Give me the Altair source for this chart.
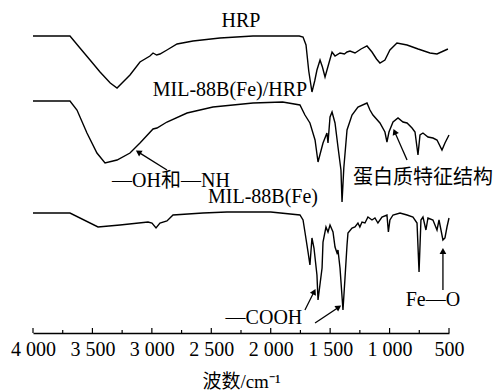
import math
import altair as alt
import pandas as pd

# FTIR spectra (wavenumber in cm^-1, stacked transmittance in arbitrary units)
hrp_wn = [4000, 3850, 3689, 3605, 3520, 3436, 3350, 3293, 3184, 3100, 3016, 2990, 2960, 2932,
          2873, 2788, 2654, 2427, 2149, 1900, 1760, 1728, 1703, 1680, 1653, 1630, 1611, 1585,
          1565, 1543, 1510, 1484, 1459, 1417, 1380, 1358, 1333, 1291, 1240, 1190, 1148, 1110,
          1081, 1039, 997, 938, 853, 760, 660, 601, 509]
hrp_t = [297, 297, 297, 285, 273, 261, 250, 245, 258, 271, 277, 280, 278, 279,
         283, 289, 292, 295, 297, 297, 297, 296, 288, 262, 241, 252, 263, 273,
         266, 256, 270, 281, 277, 280, 279, 281, 282, 280, 284, 287, 281, 274,
         270, 273, 283, 290, 288, 284, 280, 279, 284]

mix_wn = [4000, 3689, 3630, 3546, 3462, 3394, 3293, 3184, 3100, 2990, 2957, 2873, 2704, 2486,
          2149, 1900, 1754, 1712, 1670, 1627, 1602, 1560, 1527, 1518, 1501, 1484, 1459, 1434,
          1409, 1400, 1385, 1358, 1316, 1266, 1190, 1165, 1140, 1081, 1039, 1022, 1005, 971,
          929, 887, 853, 811, 786, 761, 744, 719, 677, 635, 601, 559, 534, 500]
mix_t = [232, 232, 223, 200, 180, 170, 173, 180, 190, 204, 205, 211, 220, 226,
         230, 231, 228, 218, 210, 193, 171, 190, 200, 190, 216, 221, 210, 186,
         163, 131, 165, 203, 218, 226, 230, 223, 218, 210, 201, 191, 201, 211,
         215, 211, 210, 205, 201, 178, 198, 200, 196, 195, 193, 183, 190, 198]

mof_wn = [4000, 3689, 3453, 3268, 3032, 2999, 2965, 2932, 2873, 2822, 2570, 2368, 2000, 1754,
          1728, 1712, 1686, 1670, 1653, 1636, 1611, 1602, 1568, 1560, 1535, 1518, 1501, 1476,
          1459, 1442, 1434, 1417, 1392, 1375, 1358, 1350, 1316, 1291, 1266, 1250, 1232, 1207,
          1182, 1148, 1123, 1098, 1064, 1022, 1010, 997, 971, 912, 853, 803, 769, 752, 736,
          719, 694, 677, 635, 601, 584, 551, 534, 517, 500]
mof_t = [120, 120, 106, 108, 111, 110, 105, 110, 112, 118, 120, 121, 121, 118,
         113, 101, 81, 68, 95, 85, 58, 33, 65, 91, 106, 101, 108, 101,
         86, 80, 83, 65, 23, 55, 88, 100, 105, 106, 110, 106, 111, 110,
         116, 113, 115, 110, 116, 118, 101, 113, 118, 120, 118, 116, 110, 61, 113,
         116, 103, 115, 113, 103, 113, 93, 95, 106, 115]

series_names = ["HRP", "MIL-88B(Fe)/HRP", "MIL-88B(Fe)"]

# Curve labels and annotations
label_text = ["HRP", "MIL-88B(Fe)/HRP", "—OH和—NH", "MIL-88B(Fe)", "蛋白质特征结构", "—COOH", "Fe—O"]
label_wn = [2250, 2343, 2839, 2065, 719, 2057, 635]
label_t = [312, 243, 152, 136, 155, 15, 33]

# Arrows: tail (wn0, t0) -> head (wn1, t1)
arrow_wn0 = [2873, 853, 1712, 1627, 551]
arrow_t0 = [163, 173, 23, 10, 43]
arrow_wn1 = [3142, 971, 1619, 1400, 551]
arrow_t1 = [183, 205, 45, 28, 86]

tick_major = [500, 1000, 1500, 2000, 2500, 3000, 3500, 4000]
tick_minor = [750, 1250, 1750, 2250, 2750, 3250, 3750]

W, H = 416, 323
WN_MIN, WN_MAX = 500, 4000
T_MAX = 323
kx = W / (WN_MAX - WN_MIN)
ky = H / T_MAX

FONT = "Liberation Serif, Times New Roman, Noto Sans CJK SC"
FS = 20

rows = []
for name, wn, t in zip(series_names, [hrp_wn, mix_wn, mof_wn], [hrp_t, mix_t, mof_t]):
    for i, (a, b) in enumerate(zip(wn, t)):
        rows.append({"series": name, "wn": a, "t": b, "idx": i})
spec_df = pd.DataFrame(rows)

x_scale = alt.Scale(domain=[WN_MIN, WN_MAX], reverse=True, nice=False, zero=False)
y_scale = alt.Scale(domain=[0, T_MAX], nice=False, zero=False)

x_axis = alt.Axis(
    values=tick_major, ticks=False, grid=False,
    labelExpr="replace(format(datum.value, ','), ',', ' ')",
    labelOverlap=False, labelFlush=False, labelBound=False,
    labelFont=FONT, labelFontSize=FS, labelColor="black", labelPadding=6,
    domainColor="black", domainWidth=1.5,
    title="波数/cm⁻¹", titleFont=FONT, titleFontSize=19, titleFontWeight="normal",
    titleColor="black", titlePadding=13,
)

lines = alt.Chart(spec_df).mark_line(color="black", strokeWidth=1.4).encode(
    x=alt.X("wn:Q", scale=x_scale, axis=x_axis),
    y=alt.Y("t:Q", scale=y_scale, axis=None),
    detail="series:N",
    order="idx:O",
)

tick_df = pd.DataFrame(
    [{"wn": v, "len": 5} for v in tick_major] + [{"wn": v, "len": 3} for v in tick_minor]
)
tick_df["base"] = 0
ticks = alt.Chart(tick_df).mark_rule(color="black", strokeWidth=1.2).encode(
    x=alt.X("wn:Q", scale=x_scale),
    y=alt.Y("base:Q", scale=y_scale),
    y2="len:Q",
)

label_df = pd.DataFrame({"text": label_text, "wn": label_wn, "t": label_t})
labels = alt.Chart(label_df).mark_text(
    font=FONT, fontSize=FS, color="black", align="center", baseline="middle"
).encode(
    x=alt.X("wn:Q", scale=x_scale),
    y=alt.Y("t:Q", scale=y_scale),
    text="text:N",
)

arrow_rows = []
head_rows = []
for w0, t0, w1, t1 in zip(arrow_wn0, arrow_t0, arrow_wn1, arrow_t1):
    dx = (w0 - w1) * kx
    dy = -(t1 - t0) * ky
    n = math.hypot(dx, dy)
    ux, uy = dx / n, dy / n
    ang = math.degrees(math.atan2(dx, -dy)) % 360
    arrow_rows.append({"wn": w0, "t": t0, "wn2": w1 + 4 * ux / kx, "t2": t1 + 4 * uy / ky})
    head_rows.append({"wn": w1 + 4 * ux / kx, "t": t1 + 4 * uy / ky, "ang": ang})

arrow_df = pd.DataFrame(arrow_rows)
shafts = alt.Chart(arrow_df).mark_rule(color="black", strokeWidth=1.3).encode(
    x=alt.X("wn:Q", scale=x_scale),
    y=alt.Y("t:Q", scale=y_scale),
    x2="wn2:Q",
    y2="t2:Q",
)

head_df = pd.DataFrame(head_rows)
heads = alt.Chart(head_df).mark_point(
    shape="triangle-up", filled=True, color="black", size=45, opacity=1
).encode(
    x=alt.X("wn:Q", scale=x_scale),
    y=alt.Y("t:Q", scale=y_scale),
    angle=alt.Angle("ang:Q", scale=None),
)

chart = alt.layer(lines, ticks, shafts, heads, labels).properties(
    width=W,
    height=H,
    autosize=alt.AutoSizeParams(type="none"),
    padding={"left": 33, "top": 10, "right": 44, "bottom": 59},
    background="white",
).configure_view(stroke=None)

chart.save("out.html", embed_options={"renderer": "svg", "actions": False})
